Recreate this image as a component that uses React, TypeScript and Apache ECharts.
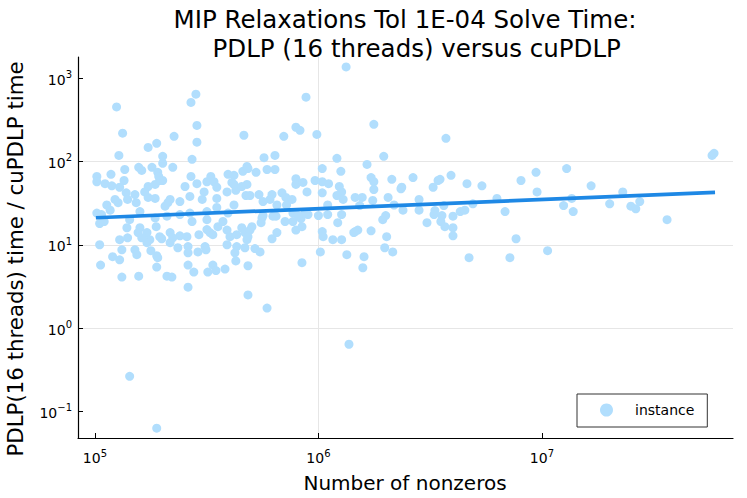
import React, { useEffect, useRef } from 'react';
import * as echarts from 'echarts';

// Number of nonzeros per instance (x)
const nnz: number[] = [
  1.02e5, 1.02e5, 1.11e5, 1.18e5, 1.19e5, 1.25e5, 1.33e5, 1.28e5, 1.36e5, 1.35e5,
  1.29e5, 1.38e5, 1.51e5, 1.40e5, 1.27e5, 1.23e5, 1.13e5, 1.17e5, 1.02e5, 1.07e5,
  1.05e5, 1.10e5, 1.53e5, 1.57e5, 1.62e5, 1.73e5, 1.89e5, 1.80e5, 1.91e5, 1.93e5,
  2.01e5, 2.01e5, 2.01e5, 1.73e5, 1.95e5, 1.86e5, 1.67e5, 1.73e5, 1.86e5, 2.17e5,
  2.12e5, 2.06e5, 2.40e5, 2.66e5, 2.53e5, 2.26e5, 2.23e5, 2.69e5, 2.83e5, 2.86e5,
  2.86e5, 2.72e5, 2.69e5, 2.86e5, 3.08e5, 3.02e5, 3.17e5, 3.30e5, 3.41e5, 3.51e5,
  3.51e5, 3.94e5, 4.19e5, 4.10e5, 3.90e5, 4.27e5, 4.19e5, 4.59e5, 4.79e5, 4.74e5,
  4.79e5, 4.54e5, 4.64e5, 5.26e5, 4.84e5, 4.19e5, 3.94e5, 3.51e5, 3.17e5, 3.17e5,
  2.72e5, 2.66e5, 2.40e5, 2.10e5, 1.86e5, 1.59e5, 1.43e5, 1.39e5, 1.59e5, 1.71e5,
  1.56e5, 1.88e5, 1.95e5, 2.17e5, 2.40e5, 2.58e5, 2.92e5, 3.17e5, 3.27e5, 3.55e5,
  3.74e5, 3.90e5, 4.02e5, 4.31e5, 4.54e5, 4.69e5, 4.79e5, 4.69e5, 4.31e5, 3.90e5,
  3.11e5, 2.89e5, 2.61e5, 2.35e5, 2.17e5, 1.99e5, 1.76e5, 1.71e5, 1.62e5, 1.51e5,
  1.29e5, 1.32e5, 1.20e5, 1.05e5, 1.89e5, 1.54e5, 4.23e5, 1.06e5, 1.29e5, 1.40e5,
  1.32e5, 1.57e5, 1.78e5, 1.91e5, 1.89e5, 2.23e5, 2.10e5, 2.21e5, 2.61e5, 2.61e5,
  2.77e5, 2.61e5, 3.37e5, 3.14e5, 3.37e5, 3.48e5, 3.20e5, 3.82e5, 4.27e5, 4.84e5,
  4.84e5, 5.89e5, 5.20e5, 5.48e5, 1.43e5, 1.89e5, 1.37e6, 1.33e6, 8.80e5, 7.93e5,
  8.27e5, 7.00e5, 9.84e5, 5.71e5, 6.39e5, 5.89e5, 6.39e5, 7.93e5, 7.93e5, 8.53e5,
  9.66e5, 1.04e6, 1.11e6, 1.04e6, 1.21e6, 1.26e6, 1.24e6, 1.65e6, 1.72e6, 1.77e6,
  1.77e6, 1.96e6, 2.13e6, 2.36e6, 2.65e6, 3.26e6, 3.43e6, 3.72e6, 3.92e6, 4.62e6,
  5.39e6, 2.82e6, 2.82e6, 2.39e6, 3.32e6, 3.64e6, 3.29e6, 3.57e6, 4.00e6, 4.31e6,
  4.52e6, 4.91e6, 6.29e6, 6.84e6, 3.06e6, 3.53e6, 3.68e6, 4.00e6, 4.00e6, 7.66e6,
  4.72e6, 7.19e6, 1.06e7, 8.06e6, 9.41e6, 9.51e6, 1.29e7, 1.25e7, 1.38e7, 1.36e7,
  1.66e7, 2.30e7, 2.01e7, 2.50e7, 2.63e7, 2.74e7, 3.63e7, 5.77e7, 5.89e7, 3.50e6,
  4.94e5, 5.42e5, 6.20e5, 6.07e5, 6.87e5, 7.15e5, 7.62e5, 6.52e5, 7.20e5, 1.10e6,
  1.10e6, 1.27e6, 1.00e6, 8.98e5, 8.36e5, 7.69e5, 7.09e5, 7.69e5, 6.46e5, 5.59e5,
  5.54e5, 5.04e5, 4.94e5, 4.84e5, 6.20e5, 6.52e5, 7.93e5, 8.44e5, 1.04e6, 1.05e6,
  1.02e6, 1.22e6, 1.16e6, 1.27e6, 1.46e6, 1.50e6, 1.72e6, 1.94e6, 2.00e6, 2.02e6,
  1.98e6, 2.15e6, 1.34e6, 1.60e6, 1.58e6, 8.44e5, 8.89e5, 1.04e6, 1.27e6, 1.21e6,
  1.29e6, 1.46e6, 1.57e6, 1.53e6, 1.75e6, 1.77e6, 2.05e6, 2.18e6, 2.34e6, 5.65e5,
  8.71e5, 8.10e5, 6.26e5, 5.65e5, 1.44e6,
];

// PDLP (16 threads) time / cuPDLP time (y)
const ratio: number[] = [
  66, 57, 54, 70, 51, 450, 218, 118, 80, 59,
  49, 42, 40, 35, 32, 35, 30, 26, 24, 23,
  18, 19, 32, 85, 78, 147, 165, 85, 74, 66,
  115, 95, 59, 50, 59, 53, 43, 37, 36, 35,
  32, 29, 33, 38, 50, 200, 85, 510, 640, 270,
  170, 106, 66, 54, 43, 35, 57, 66, 57, 49,
  36, 70, 68, 56, 43, 45, 53, 76, 87, 39,
  53, 50, 206, 74, 82, 30, 24, 28, 20, 25,
  19, 24, 23, 22, 21, 25, 20, 16, 16, 14,
  14, 16.5, 12.5, 14, 12.8, 12.5, 13.2, 15.2, 14, 16.5,
  19, 15, 12.5, 13.2, 16, 14, 11.5, 9.2, 9.5, 10,
  9.5, 8.2, 9.5, 9.2, 10.6, 11.8, 11.5, 10.6, 12.1, 8.7,
  11.5, 8.7, 7.2, 10, 7.4, 7.6, 8.0, 5.7, 6.6, 12.1,
  4.1, 4.2, 8.5, 7.0, 5.4, 12.1, 4.2, 4.1, 8.0, 5.7,
  4.7, 3.1, 13.2, 8.7, 5.7, 4.9, 4.7, 5.1, 6.4, 5.6,
  2.5, 1.74, 9.0, 8.2, 0.264, 0.063, 0.64, 1360, 590, 257,
  236, 200, 211, 111, 118, 80, 80, 62, 53, 56,
  59, 57, 54, 82, 109, 76, 50, 92, 64, 57,
  279, 115, 61, 49, 64, 49, 59, 189, 68, 54,
  51, 35, 26, 26, 25.7, 29.5, 23, 22.4, 22, 25,
  26, 31, 36, 25, 18.4, 19, 16.5, 16, 12.8, 11.8,
  7.0, 7.0, 8.5, 59, 74, 43, 82, 29.5, 25, 36,
  51, 43, 31, 29, 27, 33, 20, 118, 125, 61,
  39, 40, 40, 35, 42, 37, 35, 30, 30, 30,
  23, 23, 22.4, 23, 20.6, 24, 19, 19, 22, 21,
  18.4, 16.5, 15, 12.5, 11.8, 14, 15, 16.5, 14.4, 12.5,
  8.2, 18.4, 11.5, 11.5, 14.4, 15, 14.7, 20, 22.4, 12.5,
  9.2, 8.2, 7.6, 7.2, 5.3, 6.1, 43, 42, 43, 39,
  35, 37, 37, 29.5, 34, 46, 37, 30, 47, 33,
  24, 22.4, 22, 22.4, 14,
];

// Fitted trend line (log-log), end points
const trendNnz: number[] = [1.01e5, 5.95e7];
const trendRatio: number[] = [21.1, 42.4];

const xTicks: number[] = [1e5, 1e6, 1e7];
const yTicks: number[] = [0.1, 1, 10, 100, 1000];

const titleText = 'MIP Relaxations Tol 1E-04 Solve Time:\n   PDLP (16 threads) versus cuPDLP';
const xLabel = 'Number of nonzeros';
const yLabel = 'PDLP(16 threads) time / cuPDLP time';
const seriesName = 'instance';

const FONT = '"DejaVu Sans", "Noto Sans", sans-serif';
const POINT = '#b1defd';
const LINE = '#1e88e5';

function powLabel(v: number): string {
  const e = Math.round(Math.log10(v));
  const s = e < 0 ? '\u2212' + String(-e) : String(e);
  return '{b|10}{s|' + s + '}';
}

const rich = {
  b: { fontSize: 14, fontFamily: FONT, color: '#000', lineHeight: 17, verticalAlign: 'bottom' as const },
  s: { fontSize: 10, fontFamily: FONT, color: '#000', lineHeight: 11, verticalAlign: 'top' as const },
};

export default function App() {
  const ref = useRef<HTMLDivElement>(null);
  useEffect(() => {
    if (!ref.current) return;
    const chart = echarts.init(ref.current, null, { renderer: 'svg' });
    const points = nnz.map((x, i) => [x, ratio[i]]);
    const trend = trendNnz.map((x, i) => [x, trendRatio[i]]);
    const option: any = {
      animation: false,
      backgroundColor: '#fff',
      grid: { left: 78, top: 57, width: 655, height: 381, containLabel: false },
      xAxis: {
        type: 'log',
        logBase: 10,
        min: 84000,
        max: 7.16e7,
        axisLine: { show: true, onZero: false, lineStyle: { color: '#000', width: 1.2 } },
        axisTick: { show: true, inside: true, length: 5, customValues: xTicks, lineStyle: { color: '#000', width: 1 } },
        axisLabel: { customValues: xTicks, margin: 10, formatter: powLabel, rich },
        splitLine: { show: true, showMinLine: false, showMaxLine: false, lineStyle: { color: '#e6e6e6', width: 1 } },
        minorTick: { show: false },
      },
      yAxis: {
        type: 'log',
        logBase: 10,
        min: 0.048,
        max: 1790,
        axisLine: { show: true, onZero: false, lineStyle: { color: '#000', width: 1.2 } },
        axisTick: { show: true, inside: true, length: 5, customValues: yTicks, lineStyle: { color: '#000', width: 1 } },
        axisLabel: { customValues: yTicks, margin: 6, formatter: powLabel, rich },
        splitLine: { show: true, showMinLine: false, showMaxLine: false, lineStyle: { color: '#e6e6e6', width: 1 } },
      },
      legend: {
        data: [seriesName],
        left: 577,
        top: 394,
        orient: 'vertical',
        padding: [9, 13, 10, 23],
        backgroundColor: '#fff',
        borderColor: '#333',
        borderWidth: 1,
        itemWidth: 13,
        itemHeight: 13,
        icon: 'circle',
        selectedMode: false,
        textStyle: { fontSize: 14, fontFamily: FONT, color: '#000', padding: [0, 0, 0, 17] },
      },
      series: [
        {
          name: seriesName,
          type: 'scatter',
          data: points,
          symbol: 'circle',
          symbolSize: 9,
          itemStyle: { color: POINT, opacity: 1 },
          z: 2,
        },
        {
          name: 'trend',
          type: 'line',
          data: trend,
          showSymbol: false,
          symbol: 'none',
          lineStyle: { color: LINE, width: 3.7 },
          z: 3,
        },
      ],
      graphic: [
        {
          type: 'text',
          x: 405,
          y: 34,
          style: {
            text: titleText,
            font: '24.5px ' + FONT,
            lineHeight: 29,
            fill: '#000',
            align: 'center',
            verticalAlign: 'middle',
          },
        },
        { type: 'text', x: 405, y: 483, style: { text: xLabel, font: '20px ' + FONT, fill: '#000', align: 'center', verticalAlign: 'middle' } },
        { type: 'text', x: 15, y: 259, rotation: Math.PI / 2, style: { text: yLabel, font: '21.3px ' + FONT, fill: '#000', align: 'center', verticalAlign: 'middle' } },
      ],
    };
    chart.setOption(option);
    return () => chart.dispose();
  }, []);
  return (
    <div
      ref={ref}
      style={{ position: 'fixed', left: 0, top: 0, width: 747, height: 498, background: '#fff' }}
    />
  );
}
